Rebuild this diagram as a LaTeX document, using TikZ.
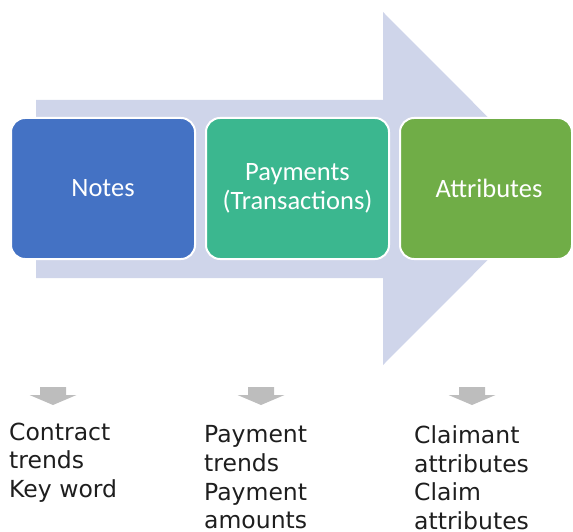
\documentclass[tikz,border=0pt]{standalone}
\usepackage{fontspec}
\setmainfont{Carlito}
\newfontfamily\labfont{DejaVu Sans}
\definecolor{arrowbg}{HTML}{CFD5EA}
\definecolor{cblue}{HTML}{4472C4}
\definecolor{cteal}{HTML}{3BB78F}
\definecolor{cgreen}{HTML}{70AD47}
\definecolor{smallarr}{HTML}{BDBDBD}
\definecolor{labtext}{HTML}{1E1E1E}
\begin{document}
\begin{tikzpicture}[x=1pt,y=-1pt,
  stagebox/.style={draw=white, line width=2pt, rounded corners=14pt, text=white,
    font=\fontsize{26.5}{28.5}\selectfont, align=center},
  labtxt/.style={anchor=north west, inner sep=0pt, align=left, text=labtext,
    font=\labfont\fontsize{23.5}{28.6}\selectfont},
  downarr/.style={fill=smallarr, draw=none}]
\useasboundingbox (0,0) rectangle (573,532);
% big background arrow
\fill[arrowbg] (36,100) -- (383,100) -- (383,12) -- (559,188.5) -- (383,365)
  -- (383,278) -- (36,278) -- cycle;
% stage boxes
\draw[stagebox, fill=cblue] (11,118) rectangle (195,259);
\draw[stagebox, fill=cteal] (206,118) rectangle (389,259);
\draw[stagebox, fill=cgreen] (400,118) rectangle (572,259);
\node[stagebox, draw=none] (notes) at (103,188.5) {Notes};
\node[stagebox, draw=none] (pay) at (297.5,188.5) {Payments\\(Transactions)};
\node[stagebox, draw=none] (attr) at (489,188.5) {Attributes};
% small down arrows
\foreach \c in {53,261,472}{
  \fill[downarr] (\c-13,387) -- (\c+13,387) -- (\c+13,395) -- (\c+23.5,395)
    -- (\c,405) -- (\c-23.5,395) -- (\c-13,395) -- cycle;
}
% labels
\node[labtxt] (l1) at (9,422.5) {Contract\\trends\\Key word};
\node[labtxt] (l2) at (204,425.5) {Payment\\trends\\Payment\\amounts};
\node[labtxt] (l3) at (414,425.5) {Claimant\\attributes\\Claim\\attributes};
\end{tikzpicture}
\end{document}
